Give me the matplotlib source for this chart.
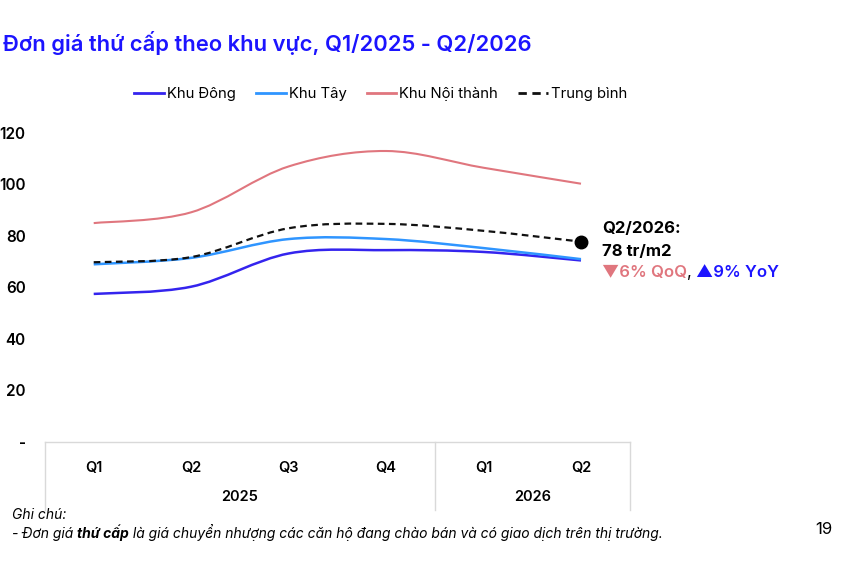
import numpy as np
import matplotlib
matplotlib.use("Agg")
import matplotlib.pyplot as plt
from matplotlib.path import Path
from matplotlib.patches import PathPatch
from matplotlib.lines import Line2D

plt.rcParams['font.family'] = ['Inter', 'DejaVu Sans']

# data
quarters = ['Q1', 'Q2', 'Q3', 'Q4', 'Q1', 'Q2']
years = ['2025', '2026']
year_spans = [(0, 3), (4, 5)]
dong = [57.5, 60.3, 73.2, 74.5, 73.8, 70.5]
tay = [69.0, 71.5, 78.8, 78.8, 75.3, 71.0]
noi_thanh = [85.0, 89.2, 107.0, 113.0, 106.5, 100.3]
trung_binh = [69.8, 71.8, 83.0, 84.7, 82.0, 77.8]
series_names = ['Khu Đông', 'Khu Tây', 'Khu Nội thành', 'Trung bình']
y_ticks = [0, 20, 40, 60, 80, 100, 120]

BLUE = '#1c14ff'
colors = ['#3424ee', '#2f95ff', '#e0767e', '#111111']
styles = ['-', '-', '-', (0, (3, 2))]
widths = [1.8, 1.8, 1.5, 1.6]


def smooth_path(xs, ys):
    # catmull-rom style bezier through the data points (like excel smoothing)
    pts = np.column_stack([xs, ys]).astype(float)
    n = len(pts)
    verts = [pts[0]]
    codes = [Path.MOVETO]
    for i in range(n - 1):
        p0 = pts[i - 1] if i > 0 else pts[i]
        p1 = pts[i]
        p2 = pts[i + 1]
        p3 = pts[i + 2] if i + 2 < n else pts[i + 1]
        c1 = p1 + (p2 - p0) / 6.0
        c2 = p2 - (p3 - p1) / 6.0
        verts += [c1, c2, p2]
        codes += [Path.CURVE4] * 3
    return Path(verts, codes)


fig = plt.figure(figsize=(8.65, 5.83), dpi=100)
ax = fig.add_axes([0.052, 0.2419, 0.676, 0.53])

x = np.arange(len(quarters))
all_series = [dong, tay, noi_thanh, trung_binh]
for vals, c, ls, lw in zip(all_series, colors, styles, widths):
    patch = PathPatch(smooth_path(x, vals), fill=False, edgecolor=c,
                      linestyle=ls, linewidth=lw, capstyle='butt')
    ax.add_patch(patch)

ax.set_xlim(-0.5, len(quarters) - 0.5)
ax.set_ylim(0, 120)

for s in ['top', 'right', 'left']:
    ax.spines[s].set_visible(False)
ax.spines['bottom'].set_color('#d9d9d9')
ax.spines['bottom'].set_linewidth(1.0)

ax.set_yticks(y_ticks)
ax.set_yticklabels(['-' if v == 0 else str(v) for v in y_ticks])
ax.tick_params(axis='y', length=0, pad=14, labelsize=11)
for lab in ax.get_yticklabels():
    lab.set_fontweight('semibold')

ax.set_xticks(x)
ax.set_xticklabels(quarters)
ax.tick_params(axis='x', length=0, pad=14, labelsize=10.5)
for lab in ax.get_xticklabels():
    lab.set_fontweight('semibold')

# category table lines under the axis
trans = ax.get_xaxis_transform()
for xv in [-0.5, year_spans[0][1] + 0.5, len(quarters) - 0.5]:
    ax.plot([xv, xv], [0, -0.22], transform=trans, color='#d9d9d9',
            linewidth=1.0, clip_on=False)
for yr, (a, b) in zip(years, year_spans):
    ax.text((a + b) / 2, -0.178, yr, transform=trans, ha='center',
            va='center', fontsize=10.5, fontweight='semibold')

# last point of the average line
last = (x[-1], trung_binh[-1])
ax.plot([last[0]], [last[1]], 'o', color='black', markersize=9,
        clip_on=False, zorder=5)
ax.annotate('Q2/2026:', xy=last, xytext=(21, 13), textcoords='offset pixels',
            ha='left', va='center', fontsize=12, fontweight='bold',
            color='black')
ax.annotate('78 tr/m2', xy=last, xytext=(21, -10), textcoords='offset pixels',
            ha='left', va='center', fontsize=12, fontweight='bold',
            color='black')
t2 = ax.annotate('▼6% QoQ', xy=last, xytext=(21, -31),
                 textcoords='offset pixels', ha='left', va='center',
                 fontsize=12, fontweight='semibold', color='#e0767e')
t3 = ax.annotate(', ', xycoords=t2, xy=(1, 0), va='bottom', ha='left',
                 fontsize=12, color='black')
ax.annotate('▲9% YoY', xycoords=t3, xy=(1, 0), va='bottom', ha='left',
            fontsize=12, fontweight='semibold', color=BLUE)

# legend
handles = [Line2D([], [], color=c, linestyle=ls, linewidth=2)
           for c, ls in zip(colors, styles)]
fig.legend(handles, series_names, loc='center', bbox_to_anchor=(0.440, 0.838),
           ncol=4, frameon=False, fontsize=10.7, handlelength=2.0,
           handletextpad=0.2, columnspacing=1.35)

# title
fig.text(0.003, 0.926, 'Đơn giá thứ cấp theo khu vực, Q1/2025 - Q2/2026',
         fontsize=15.8, fontweight='semibold', color=BLUE, ha='left',
         va='center')

# footnote
fig.text(0.014, 0.117, 'Ghi chú:', fontsize=10, style='italic',
         ha='left', va='center')
p1 = fig.text(0.014, 0.078, '- Đơn giá ', fontsize=10, style='italic',
              ha='left', va='baseline')
p2 = ax.annotate('thứ cấp', xycoords=p1, xy=(1, 0), va='bottom', ha='left',
                 fontsize=10, style='italic', fontweight='bold')
ax.annotate(' là giá chuyển nhượng các căn hộ đang chào bán và có giao dịch '
            'trên thị trường.', xycoords=p2, xy=(1, 0), va='bottom',
            ha='left', fontsize=10, style='italic')
fig.text(0.952, 0.091, '19', fontsize=12, ha='center', va='center')

fig.savefig('out.png', dpi=100)
